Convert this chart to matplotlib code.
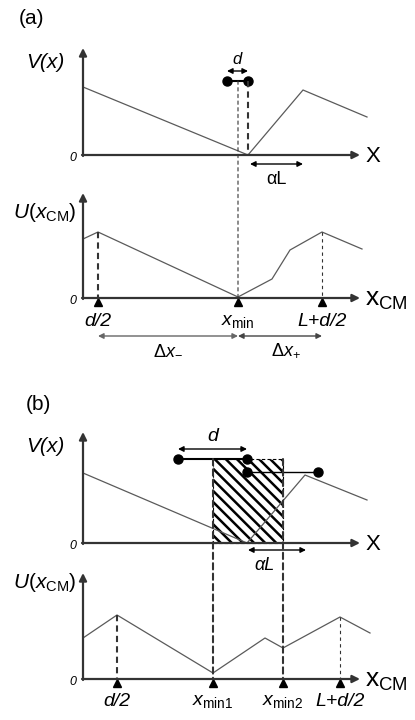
import matplotlib
matplotlib.use('Agg')
import matplotlib.pyplot as plt
from matplotlib.patches import Rectangle, ConnectionPatch

plt.rcParams['font.family'] = ['Liberation Sans', 'DejaVu Sans']
plt.rcParams['mathtext.fontset'] = 'custom'
plt.rcParams['mathtext.rm'] = 'Liberation Sans'
plt.rcParams['mathtext.it'] = 'Liberation Sans:italic'
plt.rcParams['hatch.linewidth'] = 1.8

# panel (a): substrate potential and the dimer sitting in the minimum
va_x = [0, 165, 220, 284]
va_v = [68, 0, 65, 38]
dimer_a_x = [144, 165]
dimer_a_v = 74
alpha_a = [167, 220]

# panel (a): effective potential of the centre of mass
ua_x = [0, 15, 155, 189, 207, 239, 279]
ua_u = [59, 66, 1, 19, 48, 66, 49]
ua_ticks = [15, 155, 239]
ua_labels = ['d/2', r'$x_{\mathrm{min}}$', 'L+d/2']

# panel (b): longer dimer, two metastable positions
vb_x = [0, 164, 222, 284]
vb_v = [70, 0, 68, 43]
dimer_b1_x = [95, 164]
dimer_b1_v = 84
dimer_b2_x = [164, 235]
dimer_b2_v = 71
box_x = [130, 200]
alpha_b = [165, 223]

ub_x = [0, 34, 130, 182, 200, 257, 287]
ub_u = [41, 64, 6, 41, 31, 62, 46]
ub_ticks = [34, 130, 200, 257]
ub_labels = ['d/2', r'$x_{\mathrm{min1}}$', r'$x_{\mathrm{min2}}$', 'L+d/2']

W, H = 415, 720
fig = plt.figure(figsize=(W / 100, H / 100), dpi=100)

AX_C = '#333333'
LINE_C = '#5a5a5a'


def panel(top, bottom, axis_y):
    ax = fig.add_axes([0, 1 - bottom / H, 1, (bottom - top) / H])
    ax.set_xlim(-83, W - 83)
    ax.set_ylim(-(bottom - axis_y), axis_y - top)
    ax.axis('off')
    return ax


def frame(ax, ytop, xlabel, ylabel, ylab_y, xlab_size):
    arr = dict(arrowstyle='-|>', color=AX_C, lw=1.6, mutation_scale=11,
               shrinkA=0, shrinkB=0)
    ax.annotate('', xy=(277, 0), xytext=(-1, 0), arrowprops=arr)
    ax.annotate('', xy=(0, ytop), xytext=(0, -1), arrowprops=arr)
    ax.text(282, -2, xlabel, fontsize=xlab_size, ha='left', va='center')
    ax.text(-38, ylab_y, ylabel, fontsize=15, ha='center', va='center',
            style='italic')
    ax.text(-10, -3, '0', fontsize=9, style='italic', ha='center',
            va='center')


def dbl_arrow(ax, x0, x1, y, color='k'):
    ax.annotate('', xy=(x1, y), xytext=(x0, y),
                arrowprops=dict(arrowstyle='<|-|>', color=color, lw=1.0,
                                mutation_scale=8, shrinkA=0, shrinkB=0))


def vdash(ax, x, y0, y1, thick=False):
    ax.plot([x, x], [y0, y1], color=AX_C, lw=1.5 if thick else 0.8,
            dashes=(3, 2) if thick else (3, 3))


def cross_dash(axA, yA, axB, x, thick=False):
    cp = ConnectionPatch(xyA=(x, yA), coordsA=axA.transData,
                         xyB=(x, 0), coordsB=axB.transData,
                         color=AX_C, lw=1.5 if thick else 0.8,
                         linestyle=(0, (3, 2)) if thick else (0, (3, 3)))
    fig.add_artist(cp)


def ticks(ax, xs, labels, y_lab):
    ax.plot(xs, [-3.5] * len(xs), '^', color='k', ms=6, clip_on=False)
    for x, lab in zip(xs, labels):
        ax.text(x, y_lab, lab, fontsize=14, ha='center', va='center',
                style='italic')


# ---------------- (a) ----------------
fig.text(31 / W, 1 - 19 / H, '(a)', fontsize=15, ha='center', va='center')

ax_va = panel(30, 180, 155)
ax_ua = panel(180, 365, 298)

frame(ax_va, 107, 'X', 'V(x)', 92, 16)
ax_va.plot(va_x, va_v, color=LINE_C, lw=0.9)
ax_va.plot(dimer_a_x, [dimer_a_v] * 2, '-o', color='k', lw=1.5, ms=6.5)
vdash(ax_va, dimer_a_x[1], dimer_a_v, 0, thick=True)
dbl_arrow(ax_va, dimer_a_x[0], dimer_a_x[1], 84)
ax_va.text(sum(dimer_a_x) / 2, 96, 'd', fontsize=12, style='italic',
           ha='center', va='center')
dbl_arrow(ax_va, alpha_a[0], alpha_a[1], -9)
ax_va.text(sum(alpha_a) / 2, -24, 'αL', fontsize=13, ha='center',
           va='center')

frame(ax_ua, 105, r'$\mathrm{x}_{\mathrm{CM}}$', r'$U(x_{\mathrm{CM}})$',
      85, 19)
ax_ua.plot(ua_x, ua_u, color=LINE_C, lw=0.9)
cross_dash(ax_va, dimer_a_v, ax_ua, ua_ticks[1])
vdash(ax_ua, ua_ticks[0], ua_u[1], 0, thick=True)
vdash(ax_ua, ua_ticks[2], ua_u[5], 0)
ticks(ax_ua, ua_ticks, ua_labels, -23)
dbl_arrow(ax_ua, ua_ticks[0], ua_ticks[1], -38, color='#666666')
dbl_arrow(ax_ua, ua_ticks[1], ua_ticks[2], -38, color='#444444')
ax_ua.text(85, -52, r'$\Delta x_{-}$', fontsize=13, ha='center',
           va='center')
ax_ua.text(203, -52, r'$\Delta x_{+}$', fontsize=13, ha='center',
           va='center')

# ---------------- (b) ----------------
fig.text(38 / W, 1 - 404 / H, '(b)', fontsize=15, ha='center', va='center')

ax_vb = panel(415, 570, 543)
ax_ub = panel(570, 720, 679)

frame(ax_vb, 111, 'X', 'V(x)', 96, 16)
ax_vb.add_patch(Rectangle((box_x[0], 0), box_x[1] - box_x[0], dimer_b1_v,
                          facecolor='white', edgecolor='k',
                          hatch='\\\\\\', lw=0.8,
                          linestyle=(0, (3, 2)), zorder=1))
ax_vb.plot(vb_x, vb_v, color=LINE_C, lw=0.9, zorder=2)
ax_vb.plot(dimer_b1_x, [dimer_b1_v] * 2, '-o', color='k', lw=1.5, ms=6.5,
           zorder=3)
ax_vb.plot(dimer_b2_x, [dimer_b2_v] * 2, '-o', color='k', lw=1.0, ms=6.5,
           zorder=3)
dbl_arrow(ax_vb, dimer_b1_x[0], dimer_b1_x[1], 94)
ax_vb.text(sum(dimer_b1_x) / 2, 106, 'd', fontsize=14, style='italic',
           ha='center', va='center')
dbl_arrow(ax_vb, alpha_b[0], alpha_b[1], -7)
ax_vb.text(182, -22, 'αL', fontsize=13, style='italic', ha='center',
           va='center')

frame(ax_ub, 106, r'$\mathrm{x}_{\mathrm{CM}}$', r'$U(x_{\mathrm{CM}})$',
      97, 19)
ax_ub.plot(ub_x, ub_u, color=LINE_C, lw=0.9)
cross_dash(ax_vb, dimer_b1_v, ax_ub, box_x[0], thick=True)
cross_dash(ax_vb, dimer_b1_v, ax_ub, box_x[1], thick=True)
vdash(ax_ub, ub_ticks[0], ub_u[1], 0, thick=True)
vdash(ax_ub, ub_ticks[3], ub_u[5], 0)
ticks(ax_ub, ub_ticks, ub_labels, -22)

fig.savefig('out.png', dpi=100)
